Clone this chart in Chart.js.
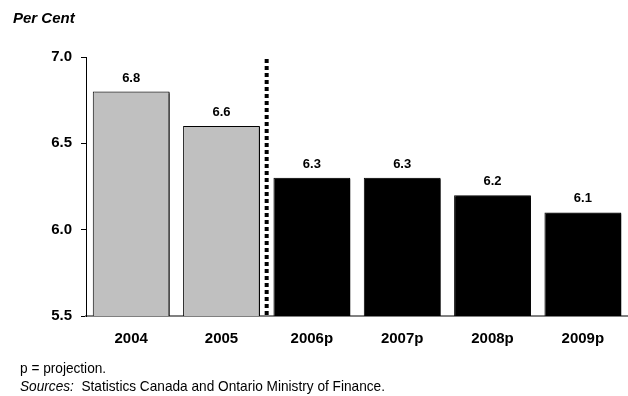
<!DOCTYPE html>
<html>
<head>
<meta charset="utf-8">
<script src="https://cdn.jsdelivr.net/npm/chart.js@4"></script>
<style>
  body { margin: 0; background: #fff; }
  .wrap { position: relative; width: 628px; height: 396px; overflow: hidden; }
  .unit { position: absolute; left: 13px; top: 9px; font: italic bold 15px "Liberation Sans", Arial, sans-serif; }
  .note { position: absolute; left: 20px; font: 15px "Liberation Sans", Arial, sans-serif; color: #000;
          transform: scaleX(0.91); transform-origin: left top; white-space: nowrap; }
</style>
</head>
<body>
<div class="wrap">
  <canvas id="myChart" width="628" height="396"></canvas>
  <div class="unit">Per Cent</div>
  <div class="note" style="top:359px">p = projection.</div>
  <div class="note" style="top:377px"><i>Sources:</i>&nbsp; Statistics Canada and Ontario Ministry of Finance.</div>
</div>
<script>
// Declaration

const years = ["2004", "2005", "2006p", "2007p", "2008p", "2009p"];
const rates = [6.8, 6.6, 6.3, 6.3, 6.2, 6.1];
const barColors = ["#C0C0C0", "#C0C0C0", "#000000", "#000000", "#000000", "#000000"];
const yTicks = [5.5, 6.0, 6.5, 7.0];
const splitAfter = 1; // actuals end at 2005, projections follow

const labelFont = "'Liberation Sans', Arial, sans-serif";

// Shadow on the right side of each bar
const barShadow = {
  id: "barShadow",
  beforeDatasetDraw(chart) {
    const ctx = chart.ctx;
    ctx.save();
    ctx.shadowColor = "#000";
    ctx.shadowOffsetX = 2;
    ctx.shadowOffsetY = 1;
    ctx.shadowBlur = 0;
  },
  afterDatasetDraw(chart) {
    chart.ctx.restore();
  },
};

// Value labels and dotted split line
const extras = {
  id: "extras",
  afterDatasetsDraw(chart) {
    const ctx = chart.ctx;
    const x = chart.scales.x;
    const area = chart.chartArea;
    const bars = chart.getDatasetMeta(0).data;

    ctx.save();
    ctx.fillStyle = "#000";
    ctx.font = "bold 13px " + labelFont;
    ctx.textAlign = "center";
    ctx.textBaseline = "bottom";
    bars.forEach((bar, i) => {
      ctx.fillText(rates[i].toFixed(1), bar.x, bar.y - 7);
    });

    const splitX = (x.getPixelForValue(splitAfter) + x.getPixelForValue(splitAfter + 1)) / 2;
    ctx.strokeStyle = "#000";
    ctx.lineWidth = 4;
    ctx.setLineDash([4, 3]);
    ctx.beginPath();
    ctx.moveTo(splitX, area.top + 2);
    ctx.lineTo(splitX, area.bottom);
    ctx.stroke();
    ctx.restore();
  },
};

const data = {
  labels: years,
  datasets: [
    {
      data: rates,
      backgroundColor: barColors,
      borderColor: "#000",
      borderWidth: 1,
      barPercentage: 0.85,
      categoryPercentage: 1,
    },
  ],
};

const config = {
  type: "bar",
  data,
  options: {
    responsive: false,
    animation: false,
    layout: { padding: { top: 57, right: 0, bottom: 40, left: 0 } },
    plugins: { legend: { display: false }, tooltip: { enabled: false } },
    scales: {
      x: {
        grid: { display: false },
        border: { color: "#808080", width: 2 },
        ticks: { color: "#000", padding: 6, font: { family: labelFont, size: 15, weight: "bold" } },
        afterFit: (scale) => { scale.height = 40; },
      },
      y: {
        min: 5.5,
        max: 7.0,
        afterBuildTicks: (scale) => { scale.ticks = yTicks.map((v) => ({ value: v })); },
        grid: { drawOnChartArea: false, tickLength: 5, color: "#000" },
        border: { color: "#000", width: 1 },
        ticks: {
          color: "#000",
          padding: 9,
          font: { family: labelFont, size: 15, weight: "bold" },
          callback: (v) => Number(v).toFixed(1),
        },
        afterFit: (scale) => { scale.width = 86; },
      },
    },
  },
  plugins: [barShadow, extras],
};

const myChart = new Chart(document.getElementById("myChart"), config);
</script>
</body>
</html>
